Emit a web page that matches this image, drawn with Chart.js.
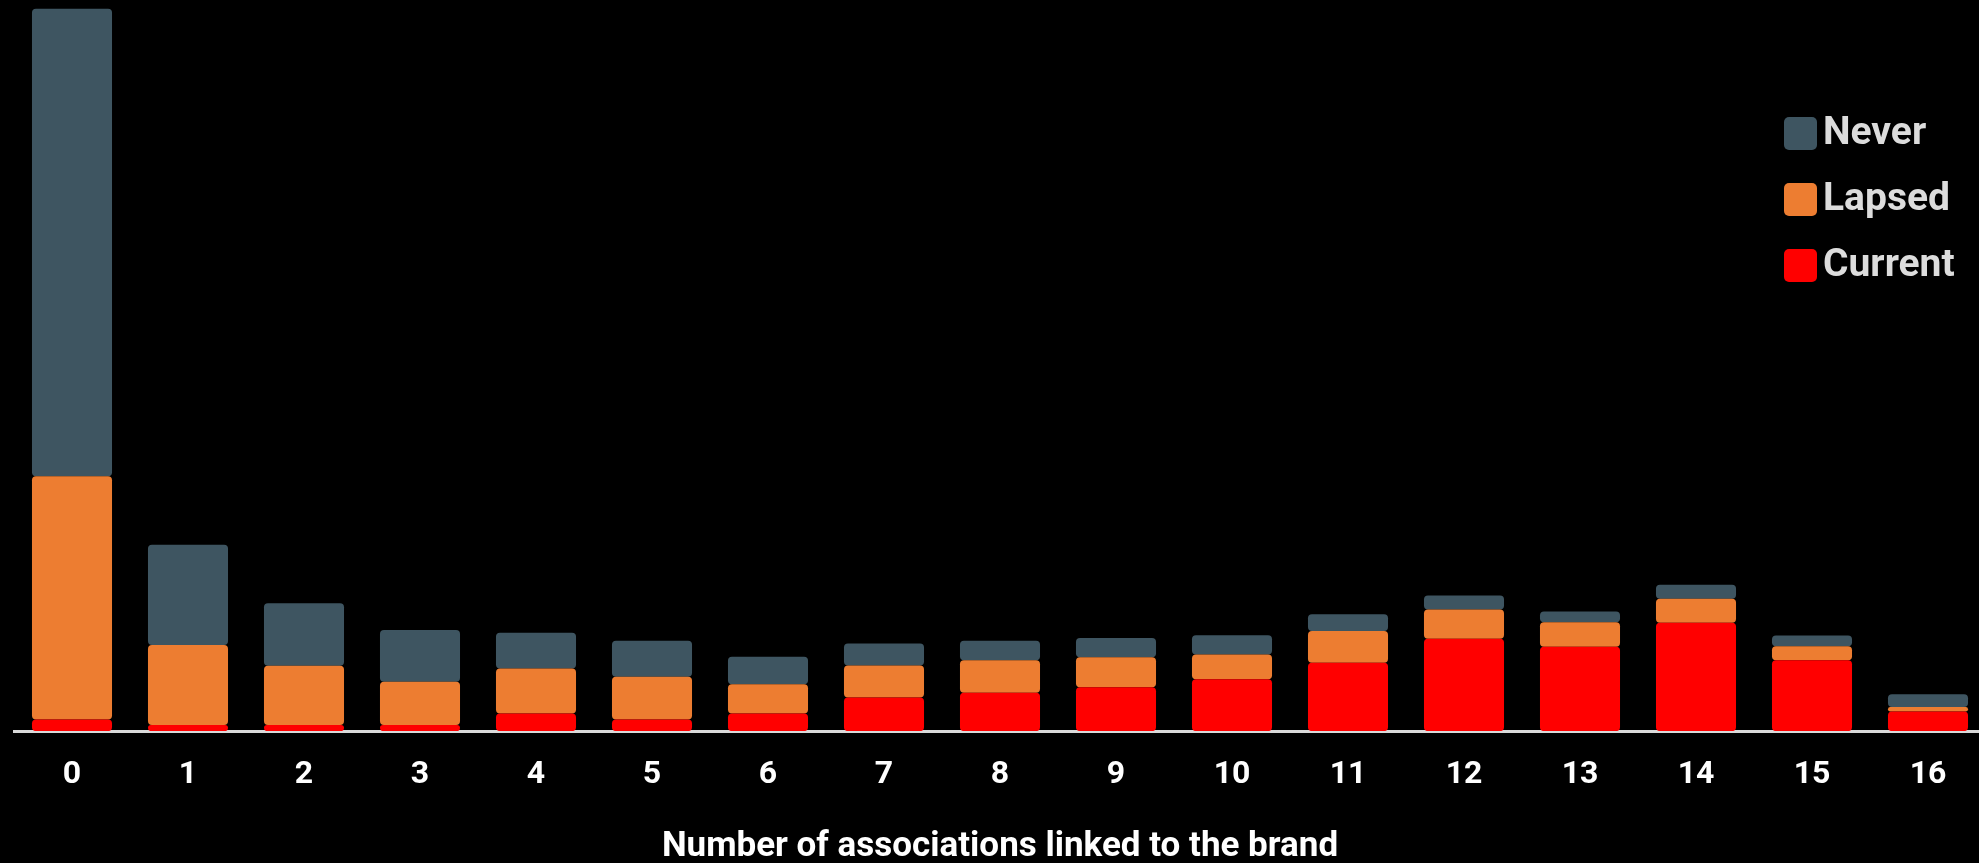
<!DOCTYPE html>
<html>
<head>
<meta charset="utf-8">
<script src="https://cdn.jsdelivr.net/npm/chart.js@4/dist/chart.umd.min.js"></script>
<style>
  html, body { margin: 0; padding: 0; background: #000; overflow: hidden; }
  #wrap { position: relative; width: 1979px; height: 863px; overflow: hidden; }
  #box { position: absolute; left: 0; top: 0; width: 1993px; height: 863px; }
</style>
</head>
<body>
<div id="wrap"><div id="box"><canvas id="c"></canvas></div></div>
<script>
const categories = ['0','1','2','3','4','5','6','7','8','9','10','11','12','13','14','15','16'];
const currentValues = [0.48, 0.25, 0.25, 0.25, 0.73, 0.48, 0.73, 1.39, 1.58, 1.81, 2.14, 2.82, 3.81, 3.48, 4.48, 2.93, 0.81];
const lapsedValues  = [10.05, 3.31, 2.45, 1.79, 1.86, 1.76, 1.21, 1.32, 1.35, 1.24, 1.02, 1.32, 1.21, 1.02, 0.99, 0.58, 0.19];
const neverValues   = [19.31, 4.14, 2.58, 2.14, 1.47, 1.49, 1.13, 0.91, 0.80, 0.80, 0.80, 0.69, 0.58, 0.44, 0.58, 0.44, 0.52];
const seriesNames = ['Current', 'Lapsed', 'Never'];
const axisTitle = 'Number of associations linked to the brand';

const FONT = 'Roboto, "Liberation Sans", sans-serif';
const colors = { Current: '#FF0000', Lapsed: '#ED7D31', Never: '#3E5561' };
const radius = { topLeft: 4, topRight: 4, bottomLeft: 4, bottomRight: 4 };

const legendPlugin = {
  id: 'customLegend',
  afterDraw(chart) {
    const ctx = chart.ctx;
    const items = chart.data.datasets.slice().reverse();
    ctx.save();
    items.forEach((ds, i) => {
      const x = 1784, y = 117 + i * 66, s = 33;
      ctx.fillStyle = ds.backgroundColor;
      ctx.beginPath();
      ctx.roundRect(x, y, s, s, 5);
      ctx.fill();
      ctx.fillStyle = '#DCDCDC';
      ctx.font = 'bold 39px ' + FONT;
      ctx.textBaseline = 'middle';
      ctx.textAlign = 'left';
      ctx.fillText(ds.label, x + 39, y + s / 2 + 1);
    });
    ctx.restore();
  }
};

new Chart(document.getElementById('c'), {
  type: 'bar',
  data: {
    labels: categories,
    datasets: [
      { label: seriesNames[0], data: currentValues, backgroundColor: colors.Current },
      { label: seriesNames[1], data: lapsedValues, backgroundColor: colors.Lapsed },
      { label: seriesNames[2], data: neverValues, backgroundColor: colors.Never }
    ].map(d => Object.assign(d, {
      borderRadius: radius, borderSkipped: false, borderWidth: 0,
      categoryPercentage: 1, barPercentage: 0.69
    }))
  },
  options: {
    responsive: true,
    maintainAspectRatio: false,
    animation: false,
    layout: { padding: { left: 14, right: 7, top: 0, bottom: 0 } },
    plugins: { legend: { display: false }, tooltip: { enabled: false } },
    scales: {
      x: {
        stacked: true,
        grid: { display: false, drawTicks: false },
        border: { display: true, color: '#D9D9D9', width: 3 },
        ticks: { color: '#FFFFFF', padding: 25, font: { family: FONT, weight: 'bold', size: 32 } },
        title: { display: true, text: axisTitle, color: '#FFFFFF', padding: { top: 12, bottom: 0 },
                 font: { family: FONT, weight: 'bold', size: 35, lineHeight: 0.9 } }
      },
      y: {
        stacked: true, display: false, min: 0, max: 30.2
      }
    }
  },
  plugins: [legendPlugin]
});
</script>
</body>
</html>
